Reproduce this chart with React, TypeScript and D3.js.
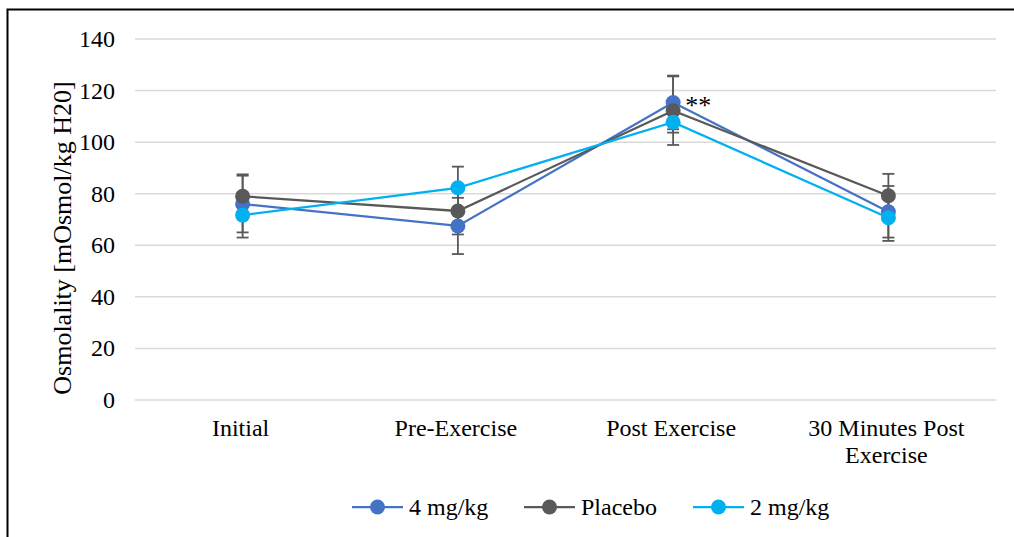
import React, { useEffect, useRef } from 'react'
import * as d3 from 'd3'

const categories = ['Initial', 'Pre-Exercise', 'Post Exercise', '30 Minutes Post Exercise']
const seriesNames = ['4 mg/kg', 'Placebo', '2 mg/kg']
const dose4 = [76, 67.5, 115.4, 73]
const dose4Err = [11, 10.9, 10.4, 10]
const placebo = [79, 73.3, 112.2, 79.2]
const placeboErr = [8.5, 9.1, 13.3, 8.5]
const dose2 = [71.7, 82.3, 107.7, 70.7]
const dose2Err = [8.7, 8.2, 4, 9]
const yTicks = [0, 20, 40, 60, 80, 100, 120, 140]
const colors = ['#4472C4', '#595959', '#00B0F0']

const W = 1014, H = 537
const FONT = '"Liberation Serif", "Times New Roman", serif'

const App = () => {
    const ref = useRef<SVGSVGElement>(null)

    useEffect(() => {
        document.body.style.margin = '0'
        const svg = d3.select(ref.current)
        svg.selectAll('*').remove()

        const x = d3.scaleBand().domain(categories).range([135, 996]).padding(0)
        const y = d3.scaleLinear().domain([0, 140]).range([400, 39])
        const cx = (c: string) => (x(c) as number) + x.bandwidth() / 2

        // outer border
        svg.append('rect')
            .attr('x', 7.5).attr('y', 9.5)
            .attr('width', 1020).attr('height', 540)
            .attr('fill', 'white').attr('stroke', '#000').attr('stroke-width', 2)

        // gridlines
        svg.selectAll('.grid').data(yTicks).enter().append('line')
            .attr('x1', 135).attr('x2', 996)
            .attr('y1', d => y(d)).attr('y2', d => y(d))
            .attr('stroke', '#d9d9d9').attr('stroke-width', 1.5)

        svg.selectAll('.ytick').data(yTicks).enter().append('text')
            .attr('x', 115).attr('y', d => y(d) + 8)
            .attr('text-anchor', 'end')
            .style('font-family', FONT).style('font-size', '24px').attr('fill', '#000')
            .text(d => d)

        svg.append('text')
            .attr('transform', 'translate(71,238) rotate(-90)')
            .attr('text-anchor', 'middle')
            .style('font-family', FONT).style('font-size', '26px').attr('fill', '#000')
            .text('Osmolality [mOsmol/kg H20]')

        // category labels, wrapped the way the original wraps them
        categories.forEach(c => {
            const lines = c === '30 Minutes Post Exercise' ? ['30 Minutes Post', 'Exercise'] : [c]
            const t = svg.append('text')
                .attr('text-anchor', 'middle')
                .style('font-family', FONT).style('font-size', '24px').attr('fill', '#000')
            lines.forEach((l, i) => {
                t.append('tspan').attr('x', cx(c) - 2).attr('y', 436 + i * 27).text(l)
            })
        })

        const series = [
            { name: seriesNames[0], values: dose4, err: dose4Err, color: colors[0] },
            { name: seriesNames[1], values: placebo, err: placeboErr, color: colors[1] },
            { name: seriesNames[2], values: dose2, err: dose2Err, color: colors[2] },
        ]

        // error bars behind the markers
        series.forEach(s => {
            const g = svg.append('g').attr('stroke', '#595959').attr('stroke-width', 1.8)
            categories.forEach((c, i) => {
                const lo = y(s.values[i] - s.err[i]), hi = y(s.values[i] + s.err[i])
                g.append('line').attr('x1', cx(c)).attr('x2', cx(c)).attr('y1', lo).attr('y2', hi)
                g.append('line').attr('x1', cx(c) - 6).attr('x2', cx(c) + 6).attr('y1', lo).attr('y2', lo)
                g.append('line').attr('x1', cx(c) - 6).attr('x2', cx(c) + 6).attr('y1', hi).attr('y2', hi)
            })
        })

        const line = d3.line<number>()
            .x((d, i) => cx(categories[i]))
            .y(d => y(d))

        series.forEach(s => {
            svg.append('path').datum(s.values)
                .attr('d', line).attr('fill', 'none')
                .attr('stroke', s.color).attr('stroke-width', 2.25)
            svg.selectAll(null).data(s.values).enter().append('circle')
                .attr('cx', (d, i) => cx(categories[i])).attr('cy', d => y(d))
                .attr('r', 7.5).attr('fill', s.color)
        })

        svg.append('text')
            .attr('x', cx(categories[2]) + 12).attr('y', y(dose4[2]) + 12)
            .style('font-family', FONT).style('font-size', '26px').attr('fill', '#000')
            .text('**')

        // legend
        const legendX = [352, 524, 693]
        series.forEach((s, i) => {
            const lx = legendX[i]
            svg.append('line').attr('x1', lx).attr('x2', lx + 51).attr('y1', 507).attr('y2', 507)
                .attr('stroke', s.color).attr('stroke-width', 2.25)
            svg.append('circle').attr('cx', lx + 25.5).attr('cy', 507).attr('r', 7.5).attr('fill', s.color)
            svg.append('text').attr('x', lx + 57).attr('y', 515)
                .style('font-family', FONT).style('font-size', '24px').attr('fill', '#000')
                .text(s.name)
        })
    }, [])

    return <svg ref={ref} width={W} height={H} style={{ display: 'block' }} />
}

export default App
